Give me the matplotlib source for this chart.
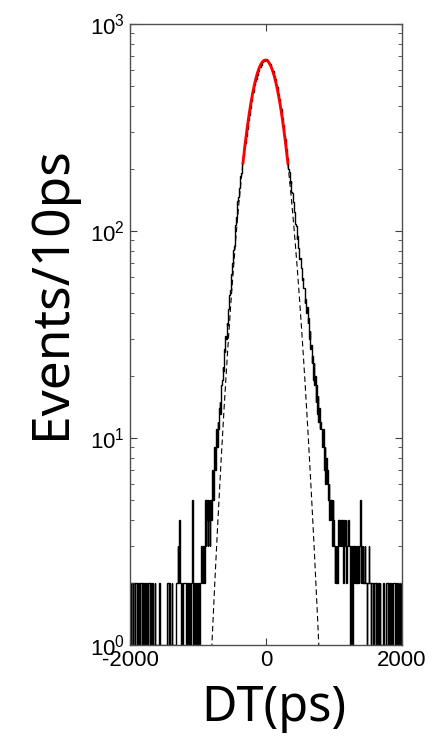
import matplotlib
matplotlib.use("Agg")
import matplotlib.pyplot as plt
import numpy
from matplotlib.ticker import LogLocator, FixedLocator

# histogram of DT, 10 ps bins from -2000 to 2000 ps (one row = 100 ps)
bin_edges_ps = numpy.arange(-2000, 2001, 10)
counts = [
    2, 1, 2, 2, 1, 2, 2, 1, 2, 2,            # -2000
    1, 2, 2, 1, 2, 2, 2, 1, 2, 1,            # -1900
    2, 2, 1, 2, 2, 1, 2, 2, 2, 1,            # -1800
    2, 1, 2, 2, 1, 1, 2, 1, 1, 1,            # -1700
    1, 1, 1, 2, 1, 1, 1, 1, 1, 1,            # -1600
    1, 1, 1, 1, 1, 2, 2, 1, 2, 1,            # -1500
    1, 2, 1, 1, 1, 1, 1, 1, 2, 2,            # -1400
    3, 2, 4, 2, 2, 1, 2, 1, 2, 2,            # -1300
    2, 2, 1, 1, 2, 1, 2, 2, 1, 2,            # -1200
    2, 5, 2, 1, 2, 2, 1, 2, 2, 1,            # -1100
    2, 2, 1, 2, 2, 3, 2, 2, 3, 2,            # -1000
    5, 3, 5, 4, 3, 5, 4, 3, 5, 4,            # -900
    6, 7, 5, 8, 9, 7, 9, 11, 9, 12,          # -800
    11, 14, 15, 13, 18, 19, 22, 21, 27, 26,  # -700
    31, 30, 36, 35, 42, 43, 49, 52, 60, 62,  # -600
    70, 72, 81, 85, 99, 107, 117, 121, 140, 146,      # -500
    162, 166, 184, 191, 209, 213, 231, 240, 258, 266,  # -400
    279, 288, 312, 320, 345, 362, 382, 395, 424, 434,  # -300
    462, 470, 496, 507, 530, 541, 561, 570, 595, 600,  # -200
    618, 620, 640, 637, 656, 654, 660, 664, 667, 670,  # -100
    675, 666, 668, 657, 655, 642, 638, 619, 612, 595,  # 0
    593, 574, 563, 544, 534, 508, 498, 473, 460, 434,  # 100
    425, 397, 389, 361, 352, 325, 316, 288, 279, 255,  # 200
    248, 226, 221, 199, 192, 171, 174, 154, 152, 138,  # 300
    138, 124, 121, 108, 106, 92, 95, 83, 82, 73,       # 400
    74, 67, 66, 58, 59, 53, 53, 45, 47, 40,  # 500
    43, 36, 38, 30, 33, 27, 28, 23, 25, 19,  # 600
    23, 18, 20, 15, 18, 13, 16, 12, 14, 11,  # 700
    12, 11, 10, 9, 11, 7, 9, 6, 8, 6,        # 800
    7, 5, 6, 4, 5, 4, 5, 3, 5, 4,            # 900
    3, 2, 3, 2, 3, 2, 4, 3, 4, 3,            # 1000
    4, 3, 4, 2, 3, 4, 3, 4, 2, 3,            # 1100
    3, 4, 3, 2, 1, 3, 2, 1, 3, 2,            # 1200
    3, 2, 3, 2, 3, 2, 2, 3, 5, 2,            # 1300
    3, 2, 3, 2, 2, 3, 2, 2, 1, 2,            # 1400
    2, 3, 2, 2, 1, 2, 2, 1, 1, 2,            # 1500
    2, 1, 2, 1, 1, 2, 1, 2, 1, 1,            # 1600
    1, 1, 2, 1, 1, 1, 1, 2, 2, 1,            # 1700
    2, 1, 2, 2, 1, 2, 1, 2, 2, 2,            # 1800
    1, 2, 2, 1, 2, 2, 1, 2, 2, 1,            # 1900
]

# gaussian fit of the core
fit_amp = 670.0
fit_mean = -10.0
fit_sigma = 218.0
fit_range = (-340, 320)

x_ticks = [-2000, 0, 2000]


def gauss(x):
    return fit_amp * numpy.exp(-0.5 * ((x - fit_mean) / fit_sigma) ** 2)


def dt_plot(save_as_file="out"):
    plt.rcParams['mathtext.fontset'] = 'custom'
    plt.rcParams['mathtext.rm'] = 'Liberation Sans'
    plt.rcParams['mathtext.it'] = 'Liberation Sans:italic'
    plt.rcParams['mathtext.bf'] = 'Liberation Sans:bold'
    plt.rcParams['axes.unicode_minus'] = False

    fig = plt.figure(figsize=(4.32, 7.37), dpi=100)
    ax = fig.add_axes([0.301, 0.1248, 0.6296, 0.8426])

    ax.stairs(counts, bin_edges_ps, color='k', linewidth=1.0, baseline=None)

    xf = numpy.linspace(-2000, 2000, 801)
    ax.plot(xf, gauss(xf), color='k', linewidth=0.8, linestyle=(0, (5, 3)))
    xr = numpy.linspace(fit_range[0], fit_range[1], 200)
    ax.plot(xr, gauss(xr), color='red', linewidth=2.0)

    ax.set_yscale('log')
    ax.set_xlim(-2000, 2000)
    ax.set_ylim(1, 1000)
    ax.xaxis.set_major_locator(FixedLocator(x_ticks))
    ax.yaxis.set_major_locator(LogLocator(base=10, numticks=10))
    ax.yaxis.set_minor_locator(LogLocator(base=10, subs=numpy.arange(2, 10), numticks=20))

    ax.tick_params(which='both', direction='in', top=True, right=True,
                   colors='#404040', labelcolor='k', labelsize=16)
    ax.tick_params(which='major', length=5, width=0.8)
    ax.tick_params(which='minor', length=3, width=0.6)
    for label in ax.get_xticklabels() + ax.get_yticklabels():
        label.set_family('Liberation Sans')
    for sp in ax.spines.values():
        sp.set_color('#505050')
        sp.set_linewidth(1.0)

    fig.text(274 / 432, 1 - 708 / 737, 'DT(ps)', fontsize=35, family='Noto Sans',
             ha='center', va='center')
    fig.text(52 / 432, 1 - 293 / 737, 'Events/10ps', fontsize=37, family='Noto Sans',
             ha='center', va='center', rotation=90)

    fig.savefig(save_as_file + ".png", dpi=100)
    plt.close(fig)


dt_plot()
